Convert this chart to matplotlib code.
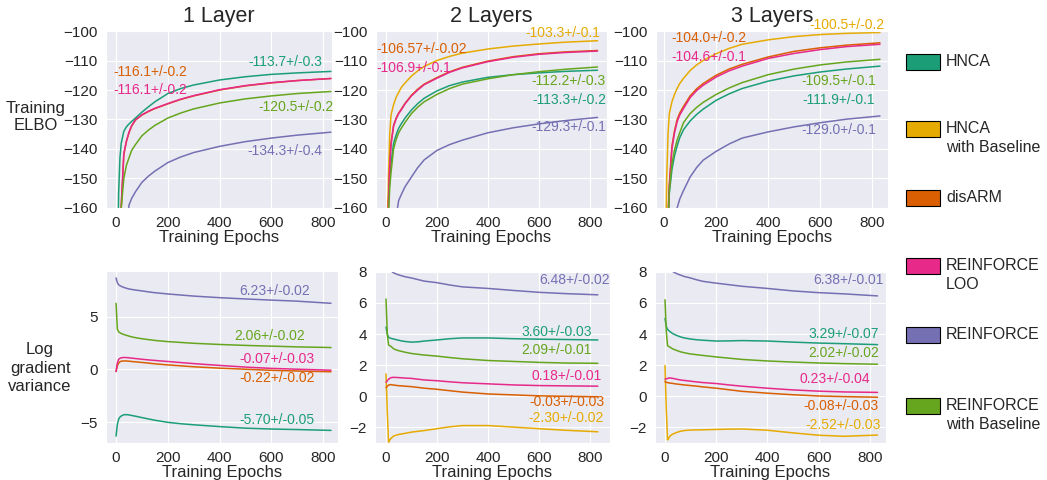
import matplotlib
matplotlib.use("Agg")
import matplotlib.pyplot as plt
import matplotlib.patches as mpatches
import seaborn as sns

sns.set_style("darkgrid")
plt.rcParams['font.family'] = ['Liberation Sans', 'DejaVu Sans']

methods = ['HNCA', 'HNCA\nwith Baseline', 'disARM', 'REINFORCE\nLOO', 'REINFORCE', 'REINFORCE\nwith Baseline']
colors = ['#1b9e77', '#e6ab02', '#d95f02', '#e7298a', '#7570b3', '#66a61e']
titles = ['1 Layer', '2 Layers', '3 Layers']

epochs = [0, 5, 10, 15, 20, 30, 40, 50, 60, 75, 100, 125, 150, 200, 250, 300, 400, 500, 600, 700, 830]

## Training ELBO ##
elbo1_hnca = [-250, -185, -155, -143, -138, -134, -132.5, -131.5, -130.7, -129.5, -127.5, -125.7, -124, -121.2, -119.5, -118.3, -116.6, -115.5, -114.7, -114.2, -113.7]
elbo1_disarm = [-260, -210, -185, -170, -160, -142, -137.5, -134.5, -132.3, -130.2, -128.5, -127.3, -126.3, -124.7, -123.2, -122, -120, -118.6, -117.6, -116.8, -116.1]
elbo1_loo = [-258, -208, -183, -168, -159, -141.5, -137.3, -134.3, -132.1, -130.1, -128.4, -127.2, -126.2, -124.6, -123.1, -121.9, -119.9, -118.5, -117.5, -116.8, -116.1]
elbo1_reinforce = [-300, -260, -230, -212, -200, -180, -167, -159, -156.8, -154.5, -151.3, -149.2, -147.5, -144.6, -142.7, -141.2, -139.1, -137.5, -136.3, -135.3, -134.3]
elbo1_rwb = [-270, -220, -190, -172, -160, -150, -145.5, -143, -140.5, -138.5, -135.5, -133.6, -132, -129.5, -127.8, -126.4, -124.4, -123, -122, -121.2, -120.5]

elbo2_hnca = [-260, -195, -158, -150, -145, -138, -135.2, -133, -131.5, -129.5, -126.8, -124.6, -122.8, -120.3, -118.5, -117.3, -115.7, -114.8, -114.2, -113.7, -113.3]
elbo2_hncab = [-240, -175, -150, -135, -128.5, -125, -122.5, -120.8, -119.2, -117.6, -115.3, -113.5, -112, -110, -108.6, -107.5, -106.1, -105.1, -104.4, -103.8, -103.3]
elbo2_disarm = [-250, -185, -157, -145, -138, -132, -129.5, -127.8, -126.5, -124.5, -121.8, -119.7, -118, -115.8, -113.8, -112.3, -110.2, -108.7, -107.7, -107.1, -106.6]
elbo2_loo = [-252, -187, -158, -146, -138.5, -132.3, -129.8, -128, -126.8, -124.7, -122, -120, -118.2, -116, -114, -112.5, -110.4, -108.9, -107.9, -107.3, -106.8]
elbo2_reinforce = [-300, -260, -230, -212, -200, -178, -163, -157.5, -155.5, -152.8, -149.5, -146.3, -143.7, -140.5, -138.5, -137, -134.5, -132.8, -131.5, -130.4, -129.3]
elbo2_rwb = [-265, -200, -162, -153, -148, -140, -136.8, -134.5, -133, -131, -128, -125.8, -124, -121.5, -119.5, -118, -116.2, -114.8, -113.8, -113, -112.2]

elbo3_hnca = [-280, -220, -190, -168, -155, -147, -142.3, -139, -136.2, -133.4, -130.5, -128.3, -126.5, -123.5, -121.3, -119.5, -117, -115.2, -113.9, -112.9, -111.9]
elbo3_hncab = [-250, -185, -150, -135, -128, -124, -121.5, -119.5, -117.8, -116, -113.4, -111.5, -110, -107.7, -105.9, -104.5, -103, -101.9, -101.2, -100.8, -100.5]
elbo3_disarm = [-270, -210, -180, -163, -152, -139, -133.8, -130, -127.8, -125.5, -122, -119.6, -117.8, -115, -112.9, -111.3, -108.8, -106.9, -105.7, -104.8, -104.0]
elbo3_loo = [-272, -212, -182, -164, -153, -140, -134.5, -130.8, -128.5, -126.2, -122.6, -120.2, -118.4, -115.6, -113.5, -111.9, -109.3, -107.6, -106.3, -105.3, -104.5]
elbo3_reinforce = [-320, -280, -250, -230, -215, -190, -170, -160, -157, -154, -149.5, -146.3, -143.8, -140.8, -138.3, -136.3, -134.2, -132.5, -131.1, -129.9, -128.8]
elbo3_rwb = [-275, -215, -185, -165, -154, -145, -140.3, -137, -134.5, -131, -128, -125.9, -124.2, -121.5, -119.3, -117.5, -114.8, -112.9, -111.5, -110.5, -109.6]

## Log gradient variance ##
var1_hnca = [-6.3, -5.2, -4.7, -4.5, -4.4, -4.28, -4.27, -4.3, -4.35, -4.42, -4.55, -4.68, -4.8, -5.0, -5.13, -5.23, -5.4, -5.55, -5.63, -5.68, -5.76]
var1_disarm = [-0.2, 0.35, 0.6, 0.72, 0.78, 0.8, 0.8, 0.78, 0.75, 0.72, 0.66, 0.6, 0.53, 0.43, 0.34, 0.25, 0.12, 0.02, -0.08, -0.15, -0.22]
var1_loo = [-0.2, 0.6, 0.95, 1.05, 1.1, 1.13, 1.12, 1.1, 1.07, 1.03, 0.96, 0.9, 0.85, 0.75, 0.65, 0.55, 0.38, 0.22, 0.1, 0.02, -0.07]
var1_reinforce = [8.65, 8.2, 8.0, 7.92, 7.85, 7.75, 7.67, 7.6, 7.56, 7.5, 7.42, 7.33, 7.25, 7.13, 7.03, 6.93, 6.78, 6.66, 6.55, 6.45, 6.25]
var1_rwb = [6.25, 3.8, 3.55, 3.47, 3.4, 3.3, 3.22, 3.15, 3.08, 3.0, 2.9, 2.82, 2.74, 2.63, 2.55, 2.47, 2.36, 2.27, 2.2, 2.13, 2.07]

var2_hnca = [4.45, 4.0, 3.8, 3.75, 3.72, 3.68, 3.64, 3.6, 3.56, 3.52, 3.48, 3.5, 3.55, 3.62, 3.7, 3.75, 3.75, 3.7, 3.67, 3.65, 3.62]
var2_hncab = [1.44, -1.0, -2.95, -2.8, -2.7, -2.55, -2.5, -2.45, -2.42, -2.38, -2.3, -2.25, -2.2, -2.08, -1.96, -1.88, -1.88, -1.98, -2.08, -2.18, -2.28]
var2_disarm = [0.55, 0.65, 0.72, 0.74, 0.75, 0.72, 0.7, 0.68, 0.67, 0.65, 0.62, 0.57, 0.52, 0.45, 0.36, 0.27, 0.15, 0.09, 0.03, 0.0, -0.03]
var2_loo = [0.9, 1.0, 1.1, 1.15, 1.2, 1.22, 1.21, 1.2, 1.19, 1.17, 1.15, 1.1, 1.05, 1.0, 0.93, 0.87, 0.8, 0.73, 0.69, 0.67, 0.65]
var2_reinforce = [8.8, 8.5, 8.3, 8.17, 8.05, 7.93, 7.86, 7.8, 7.75, 7.68, 7.6, 7.5, 7.4, 7.3, 7.15, 7.03, 6.93, 6.8, 6.68, 6.6, 6.52]
var2_rwb = [6.25, 4.0, 3.3, 3.25, 3.2, 3.05, 2.98, 2.93, 2.89, 2.83, 2.75, 2.7, 2.65, 2.58, 2.49, 2.41, 2.3, 2.24, 2.18, 2.14, 2.12]

var3_hnca = [5.0, 4.5, 4.3, 4.22, 4.15, 4.03, 3.95, 3.88, 3.82, 3.75, 3.68, 3.63, 3.6, 3.55, 3.56, 3.58, 3.55, 3.48, 3.42, 3.38, 3.32]
var3_hncab = [1.98, -0.8, -2.8, -2.68, -2.55, -2.43, -2.36, -2.3, -2.25, -2.2, -2.17, -2.16, -2.15, -2.13, -2.11, -2.1, -2.18, -2.35, -2.5, -2.57, -2.49]
var3_disarm = [0.95, 0.9, 0.88, 0.86, 0.85, 0.83, 0.8, 0.78, 0.76, 0.73, 0.69, 0.65, 0.6, 0.52, 0.42, 0.32, 0.2, 0.1, 0.02, -0.02, -0.06]
var3_loo = [1.1, 1.12, 1.15, 1.17, 1.18, 1.15, 1.12, 1.08, 1.05, 1.02, 0.97, 0.92, 0.88, 0.82, 0.73, 0.65, 0.52, 0.41, 0.33, 0.28, 0.25]
var3_reinforce = [8.8, 8.5, 8.35, 8.25, 8.15, 8.02, 7.93, 7.85, 7.79, 7.7, 7.6, 7.48, 7.38, 7.27, 7.17, 7.07, 6.93, 6.77, 6.66, 6.58, 6.45]
var3_rwb = [6.2, 4.2, 3.25, 3.2, 3.15, 3.05, 2.98, 2.92, 2.86, 2.8, 2.72, 2.67, 2.62, 2.53, 2.45, 2.37, 2.27, 2.2, 2.14, 2.1, 2.06]

# final value +/- standard error, printed on each panel
final1_elbo = ['-113.7+/-0.3', None, '-116.1+/-0.2', '-116.1+/-0.2', '-134.3+/-0.4', '-120.5+/-0.2']
final2_elbo = ['-113.3+/-0.2', '-103.3+/-0.1', '-106.57+/-0.02', '-106.9+/-0.1', '-129.3+/-0.1', '-112.2+/-0.3']
final3_elbo = ['-111.9+/-0.1', '-100.5+/-0.2', '-104.0+/-0.2', '-104.6+/-0.1', '-129.0+/-0.1', '-109.5+/-0.1']
final1_var = ['-5.70+/-0.05', None, '-0.22+/-0.02', '-0.07+/-0.03', '6.23+/-0.02', '2.06+/-0.02']
final2_var = ['3.60+/-0.03', '-2.30+/-0.02', '-0.03+/-0.03', '0.18+/-0.01', '6.48+/-0.02', '2.09+/-0.01']
final3_var = ['3.29+/-0.07', '-2.52+/-0.03', '-0.08+/-0.03', '0.23+/-0.04', '6.38+/-0.01', '2.02+/-0.02']

# where the labels sit (x, y, ha)
pos1_elbo = [(797, -110.4, 'right'), None, (-10, -113.8, 'left'), (-10, -120.0, 'left'), (797, -140.8, 'right'), (840, -125.8, 'right')]
pos2_elbo = [(863, -123.3, 'right'), (842, -100.8, 'right'), (-37, -106.2, 'left'), (-37, -112.6, 'left'), (865, -132.6, 'right'), (863, -116.9, 'right')]
pos3_elbo = [(810, -123.3, 'right'), (849, -98.0, 'right'), (26, -102.5, 'left'), (26, -108.9, 'left'), (817, -133.5, 'right'), (817, -116.9, 'right')]
pos1_var = [(768, -4.8, 'right'), None, (768, -0.85, 'right'), (768, 0.95, 'right'), (749, 7.37, 'right'), (729, 3.16, 'right')]
pos2_var = [(807, 4.13, 'right'), (855, -1.42, 'right'), (855, -0.39, 'right'), (846, 1.33, 'right'), (876, 7.5, 'right'), (807, 2.95, 'right')]
pos3_var = [(836, 4.02, 'right'), (841, -1.83, 'right'), (832, -0.65, 'right'), (800, 1.12, 'right'), (852, 7.5, 'right'), (836, 2.77, 'right')]

elbo_panels = [
    [elbo1_hnca, None, elbo1_disarm, elbo1_loo, elbo1_reinforce, elbo1_rwb],
    [elbo2_hnca, elbo2_hncab, elbo2_disarm, elbo2_loo, elbo2_reinforce, elbo2_rwb],
    [elbo3_hnca, elbo3_hncab, elbo3_disarm, elbo3_loo, elbo3_reinforce, elbo3_rwb],
]
var_panels = [
    [var1_hnca, None, var1_disarm, var1_loo, var1_reinforce, var1_rwb],
    [var2_hnca, var2_hncab, var2_disarm, var2_loo, var2_reinforce, var2_rwb],
    [var3_hnca, var3_hncab, var3_disarm, var3_loo, var3_reinforce, var3_rwb],
]
elbo_labels = [final1_elbo, final2_elbo, final3_elbo]
var_labels = [final1_var, final2_var, final3_var]
elbo_pos = [pos1_elbo, pos2_elbo, pos3_elbo]
var_pos = [pos1_var, pos2_var, pos3_var]

fig = plt.figure(figsize=(10.47, 4.8), dpi=100)

top_rects = [[0.1012, 0.5667, 0.2159, 0.3687], [0.3591, 0.5667, 0.2206, 0.3687], [0.6266, 0.5667, 0.2216, 0.3687]]
bot_rects = [[0.1012, 0.0771, 0.2216, 0.3583], [0.3582, 0.0771, 0.2245, 0.3583], [0.6256, 0.0771, 0.2206, 0.3583]]
top_xlims = [(-39, 834), (-39, 867), (-31, 861)]
bot_xlims = [(-39, 857), (-43, 878), (-39, 863)]
bot_ylims = [(-6.95, 9.3), (-3.0, 8.05), (-3.0, 8.05)]

for k in range(3):
    ax = fig.add_axes(top_rects[k])
    for m in range(6):
        if elbo_panels[k][m] is None:
            continue
        ax.plot(epochs, elbo_panels[k][m], color=colors[m], lw=1.1)
    for m in range(6):
        if elbo_labels[k][m] is None:
            continue
        x, y, ha = elbo_pos[k][m]
        ax.text(x, y, elbo_labels[k][m], color=colors[m], fontsize=10, ha=ha, va='center', clip_on=False)
    ax.set_xlim(top_xlims[k])
    ax.set_ylim(-160, -100)
    ax.set_xticks([0, 200, 400, 600, 800])
    ax.set_yticks([-160, -150, -140, -130, -120, -110, -100])
    ax.tick_params(labelsize=11, pad=2.5)
    ax.set_title(titles[k], fontsize=15.5, pad=6.5)
    ax.set_xlabel('Training Epochs', fontsize=12, labelpad=-0.5)
    if k == 0:
        ax.set_ylabel('Training\nELBO', fontsize=12, rotation=0, ha='center', va='center')
        ax.yaxis.set_label_coords(-0.31, 0.514)

    ax = fig.add_axes(bot_rects[k])
    for m in range(6):
        if var_panels[k][m] is None:
            continue
        ax.plot(epochs, var_panels[k][m], color=colors[m], lw=1.1)
    for m in range(6):
        if var_labels[k][m] is None:
            continue
        x, y, ha = var_pos[k][m]
        ax.text(x, y, var_labels[k][m], color=colors[m], fontsize=10, ha=ha, va='center', clip_on=False)
    ax.set_xlim(bot_xlims[k])
    ax.set_ylim(bot_ylims[k])
    ax.set_xticks([0, 200, 400, 600, 800])
    if k == 0:
        ax.set_yticks([-5, 0, 5])
    else:
        ax.set_yticks([-2, 0, 2, 4, 6, 8])
    ax.tick_params(labelsize=11, pad=2.5)
    ax.set_xlabel('Training Epochs', fontsize=12, labelpad=-0.5)
    if k == 0:
        ax.set_ylabel('Log\ngradient\nvariance', fontsize=12, rotation=0, ha='center', va='center', linespacing=1.3)
        ax.yaxis.set_label_coords(-0.284, 0.436)

# legend drawn by hand so the boxes line up with the first line of each label
legend_y = [62, 129, 198, 266, 335, 406]
for m in range(6):
    yc = 1 - legend_y[m] / 480
    fig.add_artist(mpatches.Rectangle((0.8653, yc - 0.0177), 0.0325, 0.0354, transform=fig.transFigure,
                                      facecolor=colors[m], edgecolor='black', lw=0.8))
    fig.text(0.9035, yc + 0.0177, methods[m], fontsize=11.5, ha='left', va='top', linespacing=1.35)

fig.savefig('out.png', dpi=100)
